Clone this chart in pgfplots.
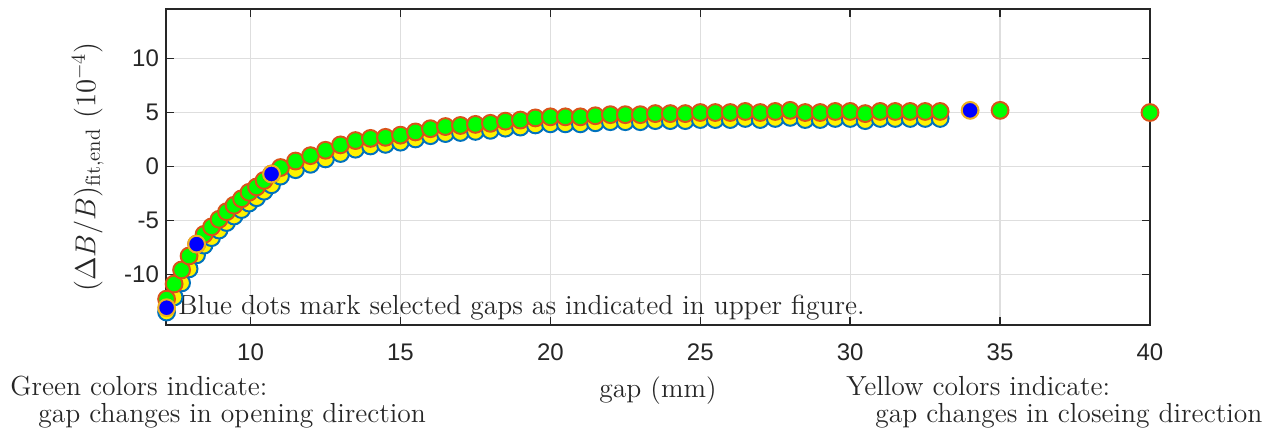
\documentclass[border=0pt]{standalone}
\usepackage{pgfplots}
\usepackage{pgfplotstable}
\pgfplotsset{compat=1.18}
\usepackage{fontspec}
\newfontfamily\ticksf{Liberation Sans}
\definecolor{mblue}{rgb}{0,0.447,0.741}
\definecolor{mred}{rgb}{0.85,0.325,0.098}
\definecolor{myel}{rgb}{0.929,0.694,0.125}
\definecolor{axgray}{rgb}{0.15,0.15,0.15}

% closing direction (yellow)
\pgfplotstableread{
x y
7.2 -13.5
7.45 -12.1
7.7 -10.8
7.95 -9.5
8.2 -8.2
8.45 -7.3
8.7 -6.6
8.95 -5.9
9.2 -5.2
9.45 -4.6
9.7 -4.0
9.95 -3.4
10.2 -2.9
10.45 -2.3
10.7 -1.7
11.0 -0.9
11.5 -0.3
12.0 0.2
12.5 0.7
13.0 1.2
13.5 1.6
14.0 1.9
14.5 2.05
15.0 2.25
15.5 2.55
16.0 2.85
16.5 3.05
17.0 3.15
17.5 3.25
18.0 3.35
18.5 3.55
19.0 3.65
19.5 3.85
20.0 3.95
20.5 3.95
21.0 3.95
21.5 4.05
22.0 4.15
22.5 4.15
23.0 4.15
23.5 4.25
24.0 4.25
24.5 4.25
25.0 4.35
25.5 4.35
26.0 4.35
26.5 4.45
27.0 4.35
27.5 4.45
28.0 4.55
28.5 4.35
29.0 4.35
29.5 4.45
30.0 4.45
30.5 4.25
31.0 4.45
31.5 4.45
32.0 4.45
32.5 4.45
33.0 4.45
}\closing

% opening direction (green)
\pgfplotstableread{
x y
7.2 -12.3
7.45 -10.9
7.7 -9.6
7.95 -8.3
8.2 -7.2
8.45 -6.3
8.7 -5.6
8.95 -4.9
9.2 -4.2
9.45 -3.6
9.7 -3.0
9.95 -2.4
10.2 -1.9
10.45 -1.3
10.7 -0.7
11.0 -0.1
11.5 0.5
12.0 1.0
12.5 1.5
13.0 2.0
13.5 2.4
14.0 2.6
14.5 2.7
15.0 2.9
15.5 3.2
16.0 3.5
16.5 3.7
17.0 3.8
17.5 3.9
18.0 4.0
18.5 4.2
19.0 4.3
19.5 4.5
20.0 4.6
20.5 4.6
21.0 4.6
21.5 4.7
22.0 4.8
22.5 4.8
23.0 4.8
23.5 4.9
24.0 4.9
24.5 4.9
25.0 5.0
25.5 5.0
26.0 5.0
26.5 5.1
27.0 5.0
27.5 5.1
28.0 5.2
28.5 5.0
29.0 5.0
29.5 5.1
30.0 5.1
30.5 4.9
31.0 5.1
31.5 5.1
32.0 5.1
32.5 5.1
33.0 5.1
35.0 5.2
40.0 5.0
}\opening

% selected gaps (blue)
\pgfplotstableread{
x y
7.2 -13.1
8.2 -7.2
10.7 -0.7
34.0 5.2
}\selected

\begin{document}
\begin{tikzpicture}
\begin{axis}[
  at={(0,0)}, anchor=south west,
  width=492pt, height=158pt, scale only axis,
  xmin=7.18, xmax=40, ymin=-14.7, ymax=14.6,
  xtick={10,15,20,25,30,35,40}, ytick={-10,-5,0,5,10},
  tick align=inside, tick pos=both, major tick length=4pt,
  grid=major, major grid style={color=black!13, line width=0.6pt},
  axis line style={color=axgray, line width=0.7pt},
  every tick/.style={color=axgray, line width=0.7pt},
  tick label style={font=\ticksf\fontsize{12}{14}\selectfont, text=axgray},
  /pgf/number format/assume math mode=true,
  xticklabel style={yshift=-6pt},
  xlabel={gap (mm)},
  xlabel style={at={(axis description cs:0.5,-0.2304)}, anchor=base, font=\fontsize{13.8}{16}\selectfont, text=black!85},
  ylabel={$(\Delta B/B)_{\mathrm{fit,end}}\ (10^{-4})$},
  ylabel style={at={(axis description cs:-0.0793,0.5)}, anchor=center, font=\fontsize{14.6}{17}\selectfont, text=black!85},
  clip=false,
]
\addplot[only marks, mark=*, mark size=4.2pt, mark options={fill=yellow, draw=mblue, line width=1pt}] table {\closing};
\addplot[only marks, mark=*, mark size=4.2pt, mark options={fill=green, draw=mred, line width=1pt}] table {\opening};
\addplot[only marks, mark=*, mark size=4.2pt, mark options={fill=blue, draw=myel, line width=1pt}] table {\selected};
\node[anchor=base west, inner sep=0pt, font=\fontsize{13.8}{16}\selectfont, text=black!85] at (axis cs:7.58,-13.7) {Blue dots mark selected gaps as indicated in upper figure.};
\end{axis}
\begin{scope}[every node/.style={anchor=base west, inner sep=0pt, font=\fontsize{13.8}{16}\selectfont, text=black!85}]
\node at (-78pt,-35.4pt) {Green colors indicate:};
\node at (-64pt,-48.8pt) {gap changes in opening direction};
\node at (340pt,-35.4pt) {Yellow colors indicate:};
\node at (354.5pt,-48.8pt) {gap changes in closeing direction};
\end{scope}
\path[use as bounding box] (-83pt,-53pt) rectangle (558pt,162.5pt);
\end{tikzpicture}
\end{document}
